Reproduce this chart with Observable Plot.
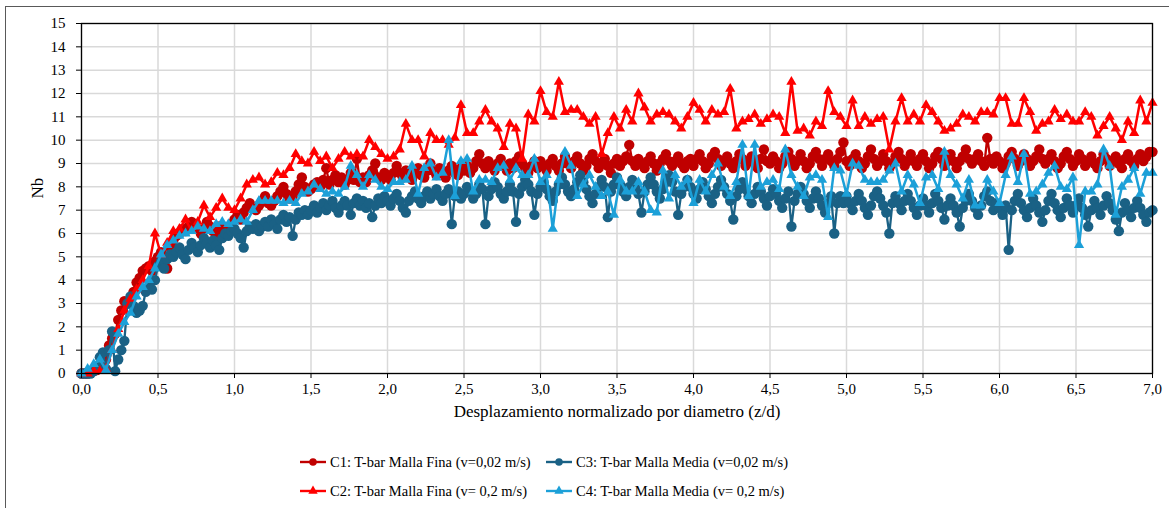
<!DOCTYPE html>
<html><head><meta charset="utf-8">
<script src="https://cdn.jsdelivr.net/npm/d3@7"></script>
<script src="https://cdn.jsdelivr.net/npm/@observablehq/plot@0.6"></script>
<style>
body{margin:0;background:#fff;}
#wrap{position:relative;width:1169px;height:508px;overflow:hidden;font-family:"Liberation Serif",serif;background:#fff;}
#border{position:absolute;left:5px;top:6px;width:1300px;height:700px;border:1px solid #595959;box-sizing:border-box;}
#chart{position:absolute;left:0;top:0;}
.leg{position:absolute;font-size:14.5px;color:#000;white-space:nowrap;display:flex;align-items:center;height:20px;}
.leg svg{margin-right:4px;}
</style></head>
<body><div id="wrap"><div id="border"></div><div id="chart"></div><div id="legend"></div></div>
<script>
// x step of each series (z/d)
const stepDense = 0.02;
const stepSparse = 0.04;

const seriesNames = [
  "C1: T-bar Malla Fina (v=0,02 m/s)",
  "C2: T-bar Malla Fina (v= 0,2 m/s)",
  "C3: T-bar Malla Media (v=0,02 m/s)",
  "C4: T-bar Malla Media (v= 0,2 m/s)"
];
const xLabel = "Desplazamiento normalizado por diametro (z/d)";
const yLabel = "Nb";

// C1 (step 0.02)
const c1 = [
0,0,0,0.05,0.1,0.15,0.3,0.2,0.6,1.2,1.5,1.7,2.3,2.7,3.1,3.0,3.2,3.5,3.9,4.1,4.4,4.5,4.6,4.4,4.8,
5.0,5.2,4.7,4.5,5.4,5.7,5.9,6.0,6.2,6.1,6.3,6.5,6.4,6.2,6.0,6.2,6.5,6.3,6.1,6.0,6.3,6.2,6.0,6.2,6.4,
6.6,6.8,6.6,6.9,7.1,7.3,7.1,7.0,7.2,7.4,7.6,7.3,7.2,7.4,7.6,7.8,8.0,7.7,7.5,7.6,7.8,8.1,8.4,8.0,7.8,
7.9,8.1,8.2,8.0,8.3,8.8,8.1,8.3,8.5,8.2,8.4,8.1,8.3,8.6,8.3,9.2,8.2,8.4,8.2,8.5,8.7,9.0,8.4,8.3,8.6,
8.5,8.3,8.6,8.9,8.6,8.4,8.7,8.5,8.3,8.6,8.8,8.5,8.4,8.7,9.0,8.7,8.5,8.8,8.6,8.4,8.7,8.9,8.6,8.5,8.8,
8.7,8.9,8.6,8.8,9.1,9.4,9.0,8.8,9.1,8.9,8.7,9.0,9.2,8.9,8.7,9.0,8.8,9.1,9.3,9.0,8.8,8.6,8.9,9.1,8.8,
9.1,8.9,8.7,9.0,9.2,8.9,8.7,9.0,9.3,9.0,8.8,9.1,9.3,9.0,8.7,8.9,9.2,9.4,9.1,8.8,9.0,9.2,8.9,8.6,9.0,
9.2,8.9,9.1,9.3,9.8,9.1,8.9,9.2,9.0,8.8,9.1,9.3,9.0,8.7,9.0,9.2,9.4,9.1,8.9,9.1,9.3,9.0,8.8,9.1,9.2,
8.9,9.2,9.4,9.1,8.8,9.0,9.3,9.5,9.2,8.9,9.1,9.3,9.0,8.8,9.1,9.4,9.2,8.9,9.1,9.3,9.0,8.8,9.2,9.6,9.1,
9.0,9.3,9.1,8.8,9.0,9.3,9.5,9.2,8.9,9.1,9.4,9.1,8.8,9.0,9.3,9.5,9.2,8.9,9.2,9.4,9.1,8.9,9.2,9.5,9.9,
9.1,8.9,9.2,9.4,9.1,8.8,9.0,9.3,9.6,9.2,8.9,9.1,9.4,9.1,8.8,9.0,9.3,9.5,9.2,8.9,9.1,9.4,9.1,8.9,9.2,
9.4,9.1,8.8,9.0,9.3,9.5,9.2,8.9,9.1,9.4,9.1,8.8,9.1,9.3,9.6,9.2,9.0,9.2,9.4,9.1,8.9,10.1,9.2,9.0,9.3,
9.1,8.8,9.0,9.3,9.5,9.2,8.9,9.1,9.4,9.2,8.9,9.1,9.3,9.6,9.2,9.0,9.2,9.4,9.1,8.8,9.0,9.3,9.5,9.2,8.9,
9.1,9.4,9.2,8.9,9.1,9.3,9.0,8.8,9.1,9.4,9.2,8.9,9.1,9.3,9.0,8.8,9.2,9.4,9.1,8.9,9.2,9.4,9.1,9.3,9.5,
9.5];

// C2 (step 0.04)
const c2 = [
0,0,0.1,0.1,0.2,1.0,1.9,2.7,3.2,3.6,
4.0,4.6,6.0,5.1,5.6,6.1,6.2,6.6,6.1,6.5,
7.2,6.7,7.1,7.5,7.1,7.0,7.5,8.1,8.3,8.4,
8.1,8.2,8.6,8.5,8.8,9.4,9.1,9.0,9.5,9.1,
9.3,8.8,9.2,9.5,9.3,9.4,9.3,10.0,9.7,9.4,
9.2,9.3,9.6,10.7,10.0,10.0,9.3,10.3,10.0,10.0,
9.8,10.1,11.5,10.3,10.3,10.8,11.3,10.8,10.5,9.7,
10.7,10.5,9.2,11.1,10.8,12.1,11.2,11.0,12.5,11.2,
11.3,11.3,11.0,10.7,11.0,9.4,10.3,11.0,10.5,11.3,
10.8,12.0,11.4,10.8,11.1,11.2,11.1,10.8,10.5,11.0,
11.6,11.3,10.8,11.3,11.1,11.2,12.2,10.5,10.8,10.9,
11.1,10.7,10.9,11.1,11.0,10.3,12.5,10.4,10.5,10.2,
10.8,10.6,12.1,11.2,11.0,10.6,11.7,10.6,11.0,10.7,
10.9,11.0,9.6,10.8,11.8,10.8,11.1,10.8,11.5,11.2,
10.8,10.4,10.5,10.7,11.1,11.0,10.8,11.2,11.2,11.1,
11.8,11.8,10.7,10.7,11.8,11.2,10.4,10.7,10.8,11.3,
10.9,11.1,10.8,10.8,11.2,11.0,10.2,10.6,11.0,10.5,
10.0,10.8,10.3,11.7,10.8,11.6];

// C3 (step 0.02)
const c3 = [
0,0,0,0,0.1,0.3,0.7,0.9,0.2,1.0,1.8,0.1,0.6,1.0,1.4,3.0,3.3,2.9,2.6,2.7,2.9,3.5,3.7,3.6,4.0,
4.6,4.8,4.5,4.9,5.1,5.0,5.2,5.4,5.1,4.9,5.3,5.6,5.4,5.2,5.5,5.8,5.6,5.4,5.7,5.5,5.3,5.8,6.0,5.9,6.1,
6.2,6.0,5.8,5.4,6.1,6.3,6.2,6.4,6.1,6.3,6.5,6.3,6.6,6.4,6.2,6.6,6.8,6.5,6.7,5.9,6.6,6.9,6.8,7.0,6.8,
7.0,7.2,6.9,7.1,7.3,7.0,7.2,7.4,7.1,6.9,7.2,7.4,7.2,6.8,7.3,7.5,7.2,7.4,7.1,7.3,6.7,7.2,7.5,7.3,7.6,
7.4,7.2,7.5,7.7,7.4,7.1,6.9,7.4,7.6,7.8,7.5,7.3,7.6,7.8,7.5,7.7,7.9,7.6,7.4,7.7,7.9,6.4,7.6,7.8,7.5,
7.7,8.0,7.8,7.5,7.7,8.1,7.9,6.4,7.6,7.9,8.2,8.0,7.7,7.5,7.8,8.1,7.8,6.5,7.7,8.0,8.3,8.1,7.8,6.8,7.7,
8.0,8.2,7.9,7.6,7.4,7.8,8.1,8.4,8.1,7.8,7.6,7.9,8.2,8.5,8.2,7.9,7.6,7.3,7.7,8.0,8.3,8.0,6.7,7.8,8.1,
8.4,8.1,7.8,7.6,8.0,8.3,8.0,7.7,6.9,7.8,8.1,8.4,8.1,7.8,7.5,7.9,8.2,8.5,8.2,7.8,6.8,7.7,8.0,8.3,8.0,
7.7,7.5,7.9,8.2,7.9,7.6,7.3,7.7,8.0,8.3,8.0,7.7,7.4,6.6,7.6,7.9,8.2,7.9,7.6,7.3,7.7,8.0,7.8,7.5,7.2,
7.6,7.9,7.7,7.4,7.1,7.5,7.8,6.3,7.4,7.7,8.0,7.7,7.4,7.1,7.5,7.8,7.5,7.2,6.9,7.3,7.6,6.0,7.3,7.6,7.3,
7.6,7.3,7.0,7.4,7.7,7.4,7.1,6.8,7.2,7.6,7.8,7.5,7.2,6.9,6.0,7.3,7.6,7.3,7.0,7.4,7.7,7.4,7.1,6.8,7.2,
7.5,7.2,6.9,7.3,7.7,7.4,7.1,6.6,7.2,7.5,7.2,6.9,6.3,7.1,7.4,7.7,7.4,7.1,6.8,7.2,7.6,7.8,7.4,7.0,7.3,
7.1,6.8,7.2,5.3,7.0,7.4,7.7,7.3,7.0,6.7,7.1,7.5,7.2,6.9,6.5,7.0,7.4,7.7,7.3,7.0,6.7,7.1,7.5,7.2,6.9,
7.2,7.5,7.1,6.8,6.3,7.0,7.4,7.1,6.8,7.2,7.6,7.3,7.0,6.6,6.1,6.9,7.3,7.0,6.7,7.1,7.4,7.1,6.8,6.5,6.9,
7.0];

// C4 (step 0.04)
const c4 = [
0,0.2,0.4,0.6,0.15,1.0,1.7,2.2,2.6,3.3,
3.7,4.0,4.5,5.1,5.5,5.7,5.9,6.0,6.1,6.3,
6.2,6.1,6.4,6.5,6.4,6.5,6.6,6.5,7.0,7.4,
7.4,7.4,7.4,7.3,7.4,7.3,7.7,7.8,8.1,7.9,
7.7,7.8,7.7,8.0,8.9,8.5,8.0,8.5,8.3,8.0,
7.9,8.2,8.2,8.3,8.9,7.7,8.8,9.0,8.4,8.6,
10.0,7.6,9.1,9.2,7.8,8.3,8.3,8.2,8.8,8.9,
8.3,8.8,8.5,8.5,9.2,8.2,8.5,6.2,8.3,9.5,
8.9,7.6,8.1,8.5,8.0,7.6,7.8,6.8,8.3,7.8,
7.8,8.2,7.8,7.0,6.9,8.7,7.5,8.5,8.0,8.3,
7.3,8.3,7.8,8.5,9.0,8.0,7.6,8.2,9.8,7.6,
9.8,8.0,8.2,8.3,7.9,9.6,8.5,8.0,7.6,8.4,
8.5,8.3,6.7,8.8,8.7,7.7,9.0,8.9,8.3,8.2,
8.2,8.3,8.7,9.0,7.8,8.5,8.1,7.3,8.4,8.5,
7.9,9.5,8.5,8.1,7.5,8.3,7.2,7.2,8.3,7.8,
7.3,8.5,9.3,8.2,9.4,7.7,7.8,8.1,8.6,8.9,
8.0,7.9,8.4,5.5,7.8,7.8,8.1,9.6,8.9,6.8,
8.0,8.3,8.8,7.7,8.6,8.6];

const xTicks = [0,0.5,1,1.5,2,2.5,3,3.5,4,4.5,5,5.5,6,6.5,7];
const yTicks = [0,1,2,3,4,5,6,7,8,9,10,11,12,13,14,15];

const series = [
  {name: seriesNames[0], vals: c1, step: stepDense, color: "#C00000", symbol: "circle", r: 5.2, sw: 2.3},
  {name: seriesNames[2], vals: c3, step: stepDense, color: "#1A6185", symbol: "circle", r: 5.2, sw: 2.3},
  {name: seriesNames[1], vals: c2, step: stepSparse, color: "#FF0000", symbol: "triangle", r: 3.8, sw: 2.5},
  {name: seriesNames[3], vals: c4, step: stepSparse, color: "#1CA0D8", symbol: "triangle", r: 3.8, sw: 2.5}
];

const fmt = d => d.toFixed(1).replace(".", ",");

const marks = [
  Plot.gridX(xTicks, {stroke: "#d9d9d9", strokeOpacity: 1, strokeWidth: 1.5}),
  Plot.gridY(yTicks, {stroke: "#d9d9d9", strokeOpacity: 1, strokeWidth: 1.5})
];
for (const s of series) {
  const data = s.vals.map((v, i) => ({x: +(i * s.step).toFixed(3), y: v}));
  marks.push(Plot.line(data, {x: "x", y: "y", stroke: s.color, strokeWidth: s.sw}));
  marks.push(Plot.dot(data, {x: "x", y: "y", fill: s.color, stroke: "none", r: s.r, symbol: s.symbol}));
}
marks.push(Plot.frame({stroke: "#000", strokeWidth: 1.3}));
marks.push(Plot.axisX(xTicks, {tickFormat: fmt, tickSize: 5, tickPadding: 5, stroke: "#000", fontSize: 15, label: null}));
marks.push(Plot.axisY(yTicks, {tickFormat: d => String(d), tickSize: 5, tickPadding: 11, stroke: "#000", fontSize: 15, label: null}));
marks.push(Plot.text([xLabel], {text: d => d, frameAnchor: "bottom", dy: 38, lineAnchor: "middle", fontSize: 17, fill: "#000"}));
marks.push(Plot.text([yLabel], {text: d => d, frameAnchor: "left", dx: -44, rotate: -90, lineAnchor: "middle", fontSize: 17, fill: "#000"}));

const chart = Plot.plot({
  width: 1169, height: 420,
  marginLeft: 81, marginRight: 17, marginTop: 23, marginBottom: 47,
  style: {fontFamily: "Liberation Serif, serif", fontSize: "15px", color: "#000", background: "transparent", overflow: "visible"},
  x: {domain: [0, 7]},
  y: {domain: [0, 15]},
  marks
});
document.getElementById("chart").appendChild(chart);

// legend
const legendPos = [
  {s: series[0], left: 300, top: 452},
  {s: series[1], left: 546, top: 452},
  {s: series[2], left: 300, top: 481},
  {s: series[3], left: 546, top: 481}
];
const legend = document.getElementById("legend");
for (const p of legendPos) {
  const div = document.createElement("div");
  div.className = "leg";
  div.style.left = p.left + "px";
  div.style.top = p.top + "px";
  const ns = "http://www.w3.org/2000/svg";
  const svg = document.createElementNS(ns, "svg");
  svg.setAttribute("width", 26); svg.setAttribute("height", 14);
  const ln = document.createElementNS(ns, "line");
  ln.setAttribute("x1", 0); ln.setAttribute("x2", 26); ln.setAttribute("y1", 7); ln.setAttribute("y2", 7);
  ln.setAttribute("stroke", p.s.color); ln.setAttribute("stroke-width", 2.4);
  svg.appendChild(ln);
  const sym = document.createElementNS(ns, "path");
  const symType = p.s.symbol === "circle" ? d3.symbolCircle : d3.symbolTriangle;
  sym.setAttribute("d", d3.symbol(symType, p.s.symbol === "circle" ? 45 : 38)());
  sym.setAttribute("transform", "translate(13,7)");
  sym.setAttribute("fill", p.s.color);
  svg.appendChild(sym);
  div.appendChild(svg);
  const span = document.createElement("span");
  span.textContent = p.s.name;
  div.appendChild(span);
  legend.appendChild(div);
}
</script>
</body></html>
